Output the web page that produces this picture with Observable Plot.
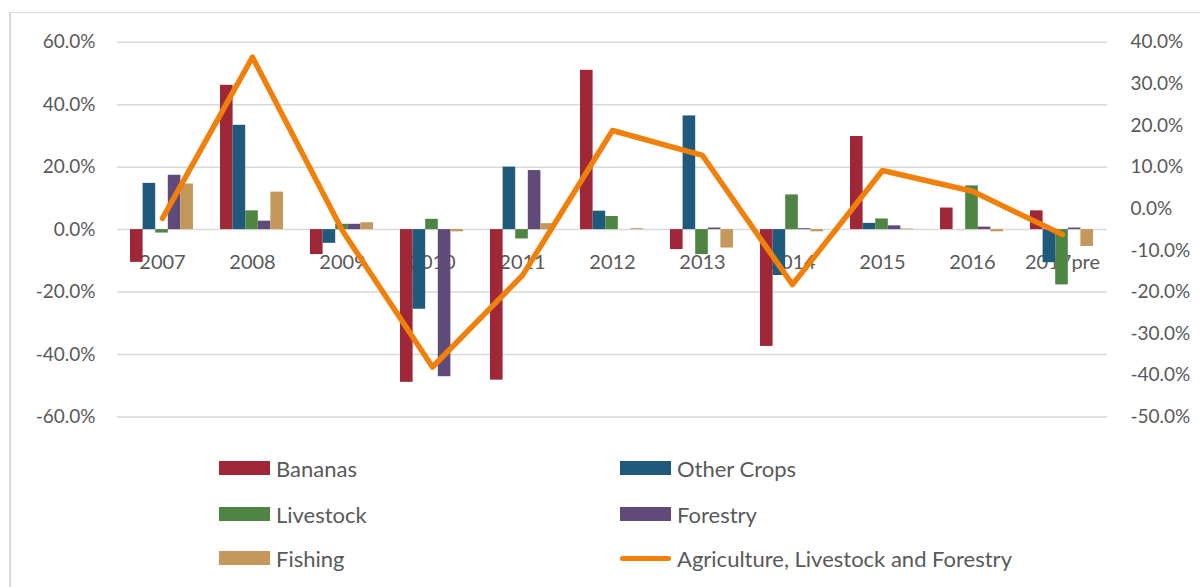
<!DOCTYPE html>
<html>
<head>
<meta charset="utf-8">
<script src="https://cdn.jsdelivr.net/npm/d3@7"></script>
<script src="https://cdn.jsdelivr.net/npm/@observablehq/plot@0.6"></script>
<style>
  html, body { margin: 0; padding: 0; background: #fff; width: 1200px; height: 587px; overflow: hidden; }
  body { position: relative; font-family: Lato, "Open Sans", sans-serif; color: #595959; }
  #frame { position: absolute; left: 9px; top: 12px; width: 1200px; height: 600px; border-top: 1.5px solid #d9d9d9; border-left: 2px solid #d9d9d9; box-sizing: border-box; }
  #chart { position: absolute; left: 0; top: 0; }
  .leg { position: absolute; display: flex; align-items: center; font-size: 22px; color: #595959; height: 26px; }
  .sw { width: 51px; height: 14px; margin-right: 6px; }
  .ln { width: 51px; height: 5px; border-radius: 3px; margin-right: 6px; }
</style>
</head>
<body>
<div id="frame"></div>
<div id="chart"></div>
<div id="legend"></div>
<script>
const years = ["2007","2008","2009","2010","2011","2012","2013","2014","2015","2016","2017pre"];
const bananas    = [-10.5, 46.2, -8.0, -48.9, -48.2, 51.0, -6.4, -37.4, 29.8, 6.9, 6.0];
const otherCrops = [14.8, 33.4, -4.4, -25.5, 20.0, 5.9, 36.4, -14.7, 2.0, 0.0, -10.6];
const livestock  = [-1.1, 6.0, 1.7, 3.3, -3.0, 4.2, -8.0, 11.1, 3.4, 14.0, -17.7];
const forestry   = [17.4, 2.7, 1.7, -47.1, 18.9, 0.0, 0.5, 0.3, 1.2, 0.8, 0.5];
const fishing    = [14.6, 12.0, 2.2, -0.7, 1.9, 0.3, -5.9, -0.7, 0.2, -0.7, -5.4];
const agriLivestockForestry = [-2.3, 36.4, -5.3, -38.0, -16.0, 18.8, 12.8, -18.2, 9.2, 4.2, -6.2];

const leftTicks = [-60, -40, -20, 0, 20, 40, 60];
const rightTicks = [-50, -40, -30, -20, -10, 0, 10, 20, 30, 40];

const seriesNames = ["Bananas", "Other Crops", "Livestock", "Forestry", "Fishing"];
const seriesValues = [bananas, otherCrops, livestock, forestry, fishing];
const seriesColors = ["#9F2738", "#1F5A7D", "#4E8542", "#604A7A", "#C3985A"];
const lineName = "Agriculture, Livestock and Forestry";
const lineColor = "#F0800A";

// right axis [-50,40] mapped onto left axis [-60,60]
const toLeft = v => -60 + (v + 50) * (120 / 90);

const band = 90, startOff = 13, barW = 12.6;

const barMarks = seriesValues.map((vals, k) =>
  Plot.barY(years.map((y, i) => ({year: y, value: vals[i]})), {
    x: "year", y: "value", fill: seriesColors[k],
    insetLeft: startOff + barW * k,
    insetRight: band - startOff - barW * (k + 1)
  })
);

const lineData = years.map((y, i) => ({year: y, value: toLeft(agriLivestockForestry[i])}));

const chart = Plot.plot({
  width: 1200,
  height: 440,
  marginLeft: 117,
  marginRight: 93,
  marginTop: 41.7,
  marginBottom: 23.5,
  style: {fontFamily: "Lato, 'Open Sans', sans-serif", background: "transparent"},
  x: {domain: years, padding: 0, axis: null},
  y: {domain: [-60, 60], axis: null},
  marks: [
    Plot.gridY(leftTicks, {stroke: "#d9d9d9", strokeOpacity: 1, strokeWidth: 1.5}),
    Plot.axisY(leftTicks, {anchor: "left", label: null, tickSize: 0, tickPadding: 22, fontSize: 19, fill: "#595959",
      tickFormat: d => d.toFixed(1) + "%"}),
    Plot.text(rightTicks, {y: d => toLeft(d), frameAnchor: "right", dx: 23, textAnchor: "start",
      text: d => d.toFixed(1) + "%", fontSize: 19, fill: "#595959"}),
    Plot.text(years, {x: d => d, y: () => 0, dy: 33, text: d => d, fontSize: 20, fill: "#595959"}),
    ...barMarks,
    Plot.line(lineData, {x: "year", y: "value", stroke: lineColor, strokeWidth: 5.5,
      strokeLinejoin: "round", strokeLinecap: "round"})
  ]
});
document.getElementById("chart").appendChild(chart);

// legend
const legend = document.getElementById("legend");
const items = [
  {name: seriesNames[0], color: seriesColors[0], x: 219, y: 468, line: false},
  {name: seriesNames[1], color: seriesColors[1], x: 620, y: 468, line: false},
  {name: seriesNames[2], color: seriesColors[2], x: 219, y: 514, line: false},
  {name: seriesNames[3], color: seriesColors[3], x: 620, y: 514, line: false},
  {name: seriesNames[4], color: seriesColors[4], x: 219, y: 558, line: false},
  {name: lineName, color: lineColor, x: 620, y: 558, line: true}
];
for (const it of items) {
  const d = document.createElement("div");
  d.className = "leg";
  d.style.left = it.x + "px";
  d.style.top = (it.y - 13) + "px";
  const s = document.createElement("div");
  s.className = it.line ? "ln" : "sw";
  s.style.background = it.color;
  const t = document.createElement("span");
  t.textContent = it.name;
  d.appendChild(s); d.appendChild(t);
  legend.appendChild(d);
}
</script>
</body>
</html>
